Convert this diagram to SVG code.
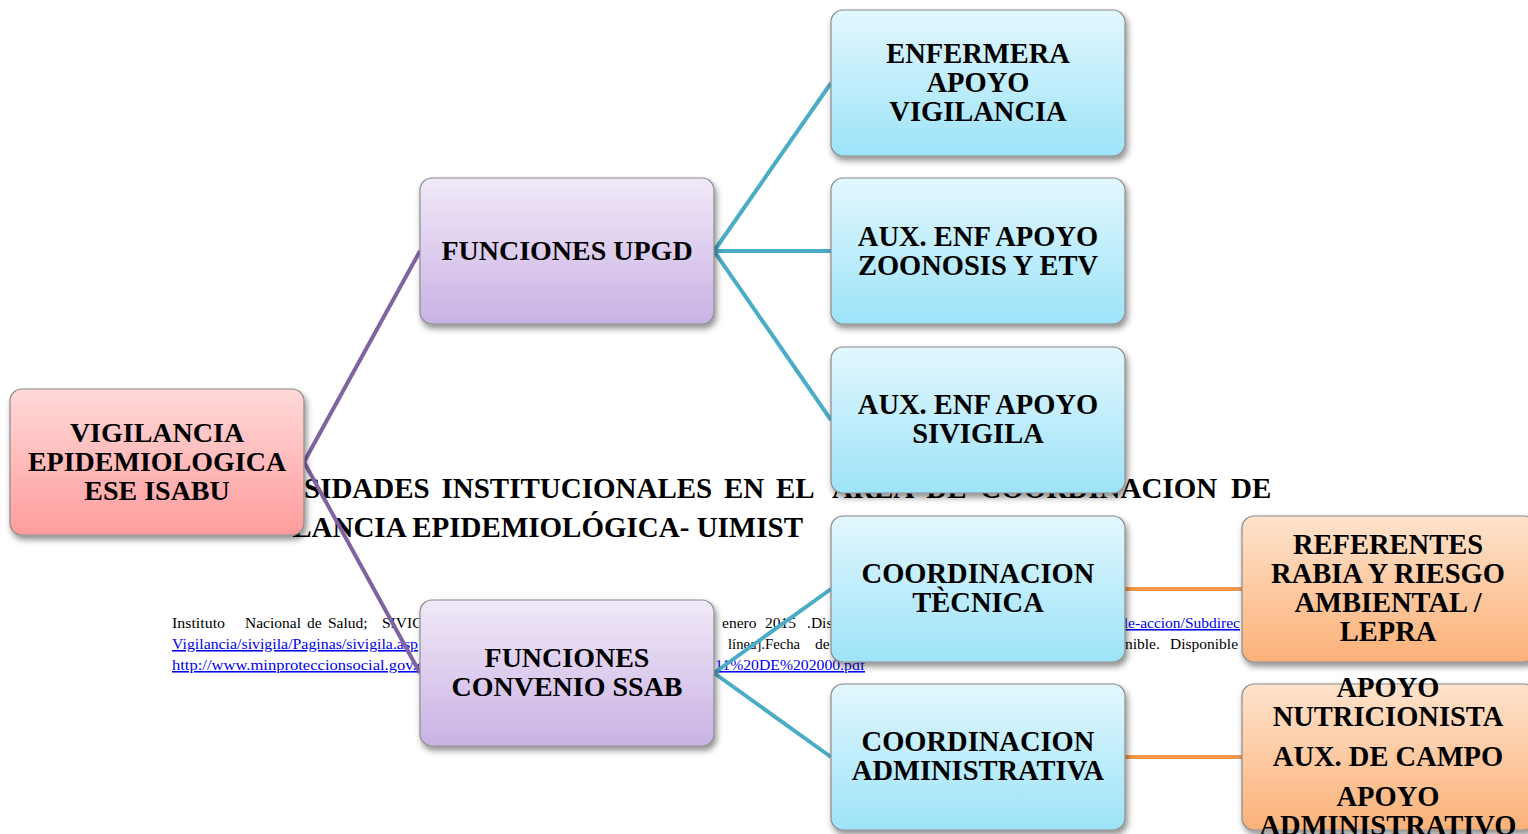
<svg xmlns="http://www.w3.org/2000/svg" width="1528" height="834" viewBox="0 0 1528 834">
<defs>
<linearGradient id="gPink" x1="0" y1="0" x2="0" y2="1"><stop offset="0" stop-color="#ffd9d9"/><stop offset="1" stop-color="#ff9c9c"/></linearGradient>
<linearGradient id="gLav" x1="0" y1="0" x2="0" y2="1"><stop offset="0" stop-color="#f1e9f8"/><stop offset="1" stop-color="#c9b2e4"/></linearGradient>
<linearGradient id="gBlue" x1="0" y1="0" x2="0" y2="1"><stop offset="0" stop-color="#e2f7fe"/><stop offset="1" stop-color="#9de3f8"/></linearGradient>
<linearGradient id="gOr" x1="0" y1="0" x2="0" y2="1"><stop offset="0" stop-color="#fee3cc"/><stop offset="1" stop-color="#fbb178"/></linearGradient>
<filter id="sh" x="-10%" y="-10%" width="125%" height="130%"><feDropShadow dx="2" dy="4" stdDeviation="3" flood-color="#000" flood-opacity="0.45"/></filter>
</defs>
<style>
.box{stroke:#8c8c8c;stroke-width:1.2;filter:url(#sh)}
.t{font-family:"Liberation Serif","Times New Roman",serif;font-weight:bold;font-size:28.5px;fill:#000;text-anchor:middle}
.t2{font-size:28px}
.bg{font-family:"Liberation Serif","Times New Roman",serif;font-weight:bold;font-size:29px;fill:#000}
.cit{font-family:"Liberation Serif","Times New Roman",serif;font-size:15.5px;fill:#000}
.lnk{font-family:"Liberation Serif","Times New Roman",serif;font-size:15.5px;fill:#0000ee;text-decoration:underline}
.cp{stroke:#8064a2;stroke-width:4;fill:none}
.cb{stroke:#4bacc6;stroke-width:4;fill:none}
.co{stroke:#f79646;stroke-width:4;fill:none}
</style>
<rect width="1528" height="834" fill="#fff"/>
<g id="background-text">
<text class="bg" x="304" y="498" word-spacing="4.5">SIDADES INSTITUCIONALES EN EL</text>
<text class="bg" x="832" y="498" word-spacing="6.5">ÁREA DE COORDINACION DE</text>
<text class="bg" x="803" y="537" text-anchor="end">LANCIA EPIDEMIOLÓGICA- UIMIST</text>
<text class="cit" x="172" y="628" textLength="53" lengthAdjust="spacingAndGlyphs">Instituto</text>
<text class="cit" x="245" y="628">Nacional</text>
<text class="cit" x="307" y="628">de</text>
<text class="cit" x="328" y="628">Salud;</text>
<text class="cit" x="382" y="628">SIVIC</text>
<text class="cit" x="722" y="628">enero</text>
<text class="cit" x="765" y="628">2015</text>
<text class="cit" x="807" y="628">.Dis</text>
<text class="lnk" x="1240" y="628" text-anchor="end">le-accion/Subdirec</text>
<text class="lnk" x="172" y="649" textLength="246" lengthAdjust="spacingAndGlyphs">Vigilancia/sivigila/Paginas/sivigila.asp</text>
<text class="cit" x="728" y="649" textLength="72" lengthAdjust="spacingAndGlyphs">línea].Fecha</text>
<text class="cit" x="815" y="649">de</text>
<text class="cit" x="1125" y="649">nible.</text>
<text class="cit" x="1170" y="649">Disponible</text>
<text class="lnk" x="172" y="670" textLength="252" lengthAdjust="spacingAndGlyphs">http://www.minproteccionsocial.gov.c</text>
<text class="lnk" x="715" y="670" textLength="150" lengthAdjust="spacingAndGlyphs">11%20DE%202000.pdf</text>
</g>
<g id="connectors">
<line class="cp" x1="304" y1="462" x2="420" y2="251"/>
<line class="cp" x1="304" y1="462" x2="420" y2="673"/>
<line class="cb" x1="714" y1="251" x2="831" y2="83"/>
<line class="cb" x1="714" y1="251" x2="831" y2="251"/>
<line class="cb" x1="714" y1="251" x2="831" y2="420"/>
<line class="cb" x1="714" y1="673" x2="831" y2="589"/>
<line class="cb" x1="714" y1="673" x2="831" y2="757"/>
<line class="co" x1="1125" y1="589" x2="1242" y2="589"/>
<line class="co" x1="1125" y1="757" x2="1242" y2="757"/>
</g>
<g id="root">
<rect class="box" x="10" y="389" width="294" height="146" rx="12" fill="url(#gPink)"/>
<text class="t t2" x="157" y="442">VIGILANCIA</text>
<text class="t t2" x="157" y="471">EPIDEMIOLOGICA</text>
<text class="t t2" x="157" y="500">ESE ISABU</text>
</g>
<g id="upgd">
<rect class="box" x="420" y="178" width="294" height="146" rx="12" fill="url(#gLav)"/>
<text class="t t2" x="567" y="260">FUNCIONES UPGD</text>
</g>
<g id="ssab">
<rect class="box" x="420" y="600" width="294" height="146" rx="12" fill="url(#gLav)"/>
<text class="t t2" x="567" y="667">FUNCIONES</text>
<text class="t t2" x="567" y="696">CONVENIO SSAB</text>
</g>
<g id="enfermera">
<rect class="box" x="831" y="10" width="294" height="146" rx="12" fill="url(#gBlue)"/>
<text class="t" x="978" y="63">ENFERMERA</text>
<text class="t" x="978" y="92">APOYO</text>
<text class="t" x="978" y="121">VIGILANCIA</text>
</g>
<g id="zoonosis">
<rect class="box" x="831" y="178" width="294" height="146" rx="12" fill="url(#gBlue)"/>
<text class="t" x="978" y="246">AUX. ENF APOYO</text>
<text class="t" x="978" y="275">ZOONOSIS Y ETV</text>
</g>
<g id="sivigila">
<rect class="box" x="831" y="347" width="294" height="146" rx="12" fill="url(#gBlue)"/>
<text class="t" x="978" y="414">AUX. ENF APOYO</text>
<text class="t" x="978" y="443">SIVIGILA</text>
</g>
<g id="coord-tecnica">
<rect class="box" x="831" y="516" width="294" height="146" rx="12" fill="url(#gBlue)"/>
<text class="t" x="978" y="583">COORDINACION</text>
<text class="t" x="978" y="612">TÈCNICA</text>
</g>
<g id="coord-admin">
<rect class="box" x="831" y="684" width="294" height="146" rx="12" fill="url(#gBlue)"/>
<text class="t" x="978" y="751">COORDINACION</text>
<text class="t" x="978" y="780">ADMINISTRATIVA</text>
</g>
<g id="referentes">
<rect class="box" x="1242" y="516" width="294" height="146" rx="12" fill="url(#gOr)"/>
<text class="t" x="1388" y="554">REFERENTES</text>
<text class="t" x="1388" y="583">RABIA Y RIESGO</text>
<text class="t" x="1388" y="612">AMBIENTAL /</text>
<text class="t" x="1388" y="641">LEPRA</text>
</g>
<g id="apoyo">
<rect class="box" x="1242" y="684" width="294" height="146" rx="12" fill="url(#gOr)"/>
<text class="t" x="1388" y="697">APOYO</text>
<text class="t" x="1388" y="726">NUTRICIONISTA</text>
<text class="t" x="1388" y="766">AUX. DE CAMPO</text>
<text class="t" x="1388" y="806">APOYO</text>
<text class="t" x="1388" y="835">ADMINISTRATIVO</text>
</g>
</svg>
